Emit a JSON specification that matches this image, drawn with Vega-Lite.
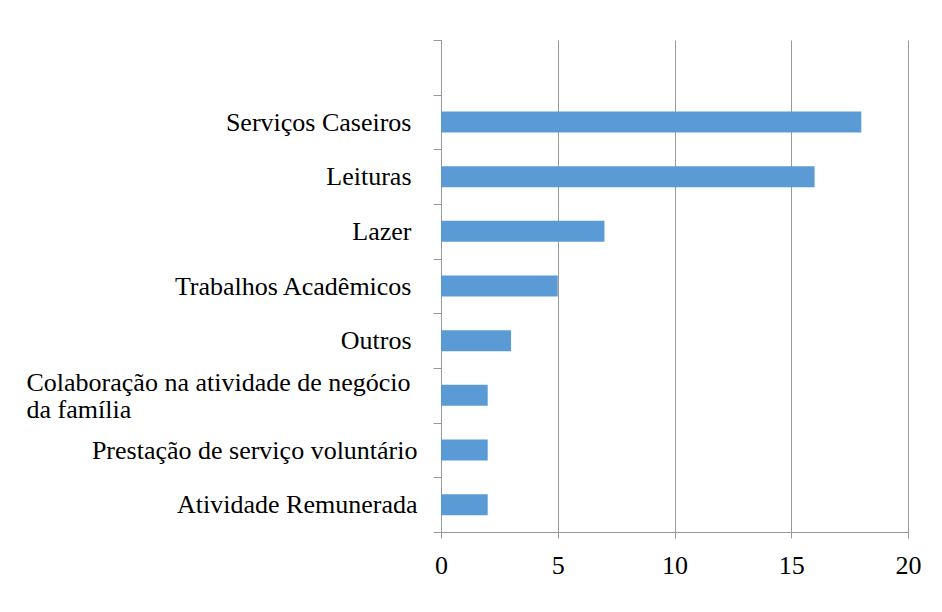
{
  "$schema": "https://vega.github.io/schema/vega-lite/v6.json",
  "autosize": "none",
  "padding": {"left": 441, "top": 40, "right": 34, "bottom": 80},
  "width": 467,
  "height": 492,
  "background": "white",
  "config": {
    "view": {"stroke": null},
    "font": "serif"
  },
  "data": {
    "values": [
      {"categoria": "Serviços Caseiros", "valor": 18},
      {"categoria": "Leituras", "valor": 16},
      {"categoria": "Lazer", "valor": 7},
      {"categoria": "Trabalhos Acadêmicos", "valor": 5},
      {"categoria": "Outros", "valor": 3},
      {"categoria": "Colaboração na atividade de negócio da família", "valor": 2},
      {"categoria": "Prestação de serviço voluntário", "valor": 2},
      {"categoria": "Atividade Remunerada", "valor": 2}
    ]
  },
  "mark": {"type": "bar", "color": "#5B9BD5", "height": {"band": 0.385}},
  "encoding": {
    "y": {
      "field": "categoria",
      "type": "nominal",
      "scale": {
        "domain": ["", "Serviços Caseiros", "Leituras", "Lazer", "Trabalhos Acadêmicos", "Outros", "Colaboração na atividade de negócio da família", "Prestação de serviço voluntário", "Atividade Remunerada"],
        "paddingInner": 0,
        "paddingOuter": 0
      },
      "axis": {
        "title": null,
        "tickBand": "extent",
        "domainColor": "#999999",
        "tickColor": "#999999",
        "tickSize": 8,
        "labelFontSize": 26,
        "labelColor": "black",
        "labelFont": "serif",
        "labelLimit": 0,
        "labelLineHeight": 27,
        "labelExpr": "datum.value == 'Colaboração na atividade de negócio da família' ? ['Colaboração na atividade de negócio', 'da família'] : datum.value",
        "labelAlign": {
          "condition": {"test": "datum.value == 'Colaboração na atividade de negócio da família'", "value": "left"},
          "value": "right"
        },
        "labelOffset": {
          "condition": {"test": "datum.value == 'Colaboração na atividade de negócio da família'", "value": -13},
          "value": 0
        },
        "labelPadding": {
          "condition": [
            {"test": "datum.value == 'Colaboração na atividade de negócio da família'", "value": 407},
            {"test": "indexof(['Serviços Caseiros','Leituras','Lazer','Trabalhos Acadêmicos','Outros'], datum.value) >= 0", "value": 22}
          ],
          "value": 16
        },
        "grid": false
      }
    },
    "x": {
      "field": "valor",
      "type": "quantitative",
      "scale": {"domain": [0, 20], "nice": false},
      "axis": {
        "title": null,
        "values": [0, 5, 10, 15, 20],
        "grid": true,
        "gridColor": "#999999",
        "domainColor": "#999999",
        "tickColor": "#999999",
        "tickSize": 6,
        "labelFontSize": 26,
        "labelColor": "black",
        "labelFont": "serif",
        "labelFlush": false,
        "labelPadding": 14
      }
    }
  }
}
